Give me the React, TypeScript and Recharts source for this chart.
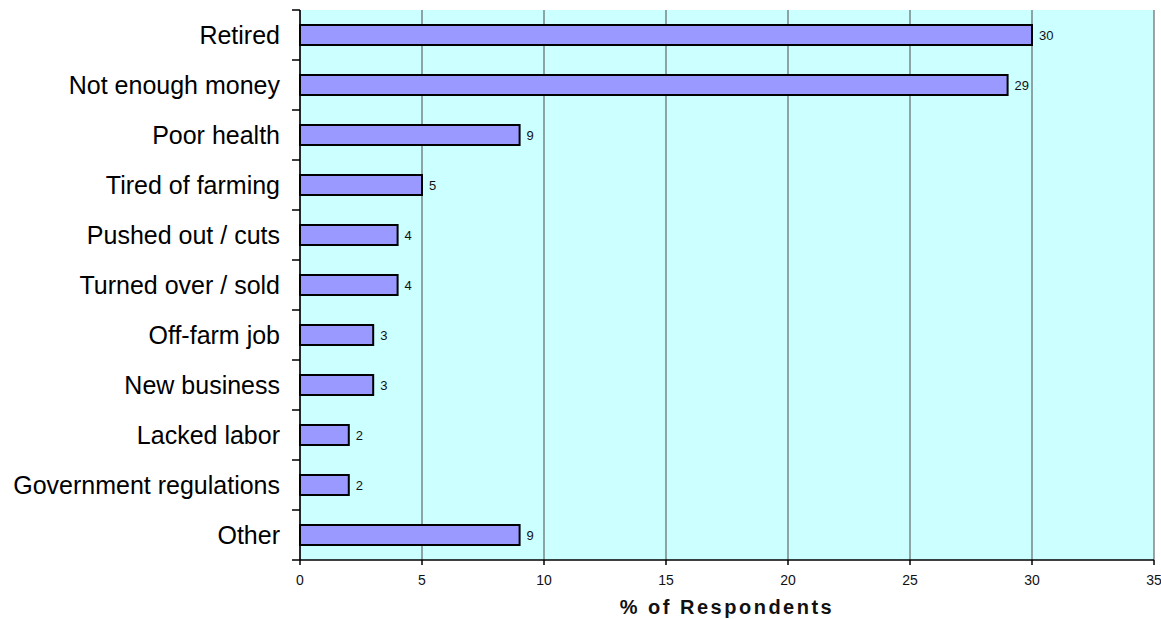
import React from "react";
import { BarChart, Bar, XAxis, YAxis, CartesianGrid, LabelList } from "recharts";

const categories = [
  "Retired",
  "Not enough money",
  "Poor health",
  "Tired of farming",
  "Pushed out / cuts",
  "Turned over / sold",
  "Off-farm job",
  "New business",
  "Lacked labor",
  "Government regulations",
  "Other",
];
const percentValues = [30, 29, 9, 5, 4, 4, 3, 3, 2, 2, 9];
const xTicks = [0, 5, 10, 15, 20, 25, 30, 35];

const data = categories.map((c, i) => ({ reason: c, pct: percentValues[i] }));

const FONT = "'Liberation Sans', Arial, sans-serif";
const BAND = 50;

const YTick = (props: any) => {
  const { x, y, payload, index } = props;
  const ax = x + 8;
  return (
    <g>
      <line x1={ax - 8} x2={ax} y1={y - BAND / 2} y2={y - BAND / 2} stroke="#000" strokeWidth={1.5} />
      {index === categories.length - 1 && (
        <line x1={ax - 8} x2={ax} y1={y + BAND / 2} y2={y + BAND / 2} stroke="#000" strokeWidth={1.5} />
      )}
      <text x={ax - 20} y={y} dy="0.36em" textAnchor="end" fontSize={25} fontFamily={FONT} fill="#000">
        {payload.value}
      </text>
    </g>
  );
};

export default function App() {
  return (
    <div>
      <style>{`body{margin:0;overflow:hidden}`}</style>
      <BarChart
        width={1161}
        height={619}
        data={data}
        layout="vertical"
        margin={{ top: 10, right: 7, left: 0, bottom: 0 }}
        barSize={20}
      >
        <CartesianGrid horizontal={false} stroke="#4a4a4a" strokeWidth={1} fill="#CCFFFF" fillOpacity={1} />
        <XAxis
          xAxisId="top"
          orientation="top"
          type="number"
          domain={[0, 35]}
          height={0}
          tick={false}
          tickLine={false}
          stroke="#8c8c8c"
          strokeWidth={1.5}
        />
        <XAxis
          type="number"
          domain={[0, 35]}
          ticks={xTicks}
          interval={0}
          height={59}
          tickSize={5}
          tickMargin={10}
          stroke="#000"
          strokeWidth={1.5}
          tick={{ fontSize: 14, fontFamily: FONT, fill: "#111" }}
          label={{
            value: "% of Respondents",
            position: "insideBottom",
            offset: 5,
            fontSize: 20,
            fontWeight: "bold",
            fontFamily: FONT,
            fill: "#111",
            letterSpacing: 2.5,
          }}
        />
        <YAxis
          type="category"
          dataKey="reason"
          width={300}
          tickLine={false}
          stroke="#000"
          strokeWidth={1.5}
          tick={<YTick />}
          interval={0}
        />
        <Bar dataKey="pct" fill="#9999FF" stroke="#000" strokeWidth={2} isAnimationActive={false}>
          <LabelList dataKey="pct" position="right" offset={7} fontSize={13} fontFamily={FONT} fill="#111" />
        </Bar>
      </BarChart>
    </div>
  );
}
